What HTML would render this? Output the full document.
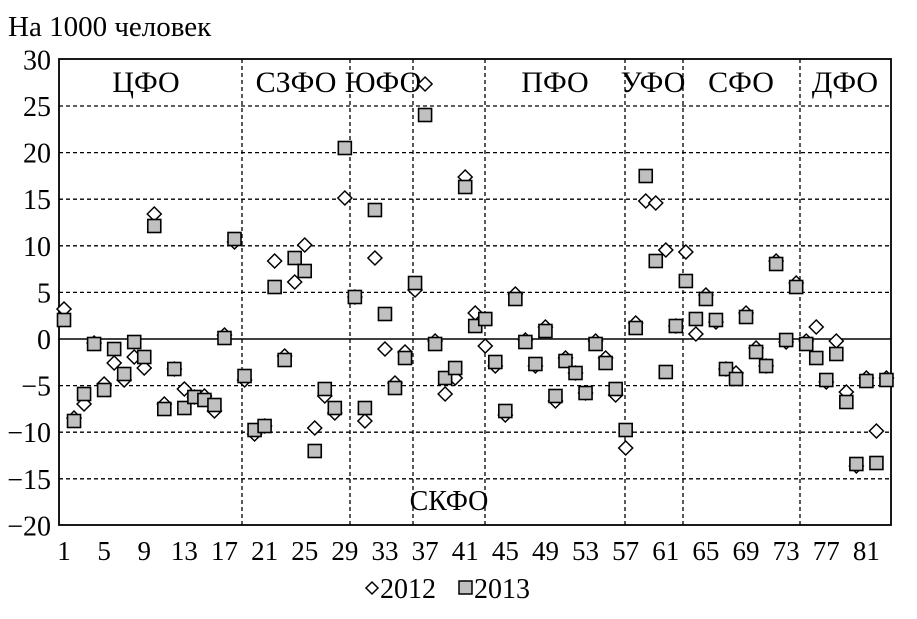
<!DOCTYPE html>
<html><head><meta charset="utf-8"><style>
body{margin:0;background:#fff}
svg text{font-family:"Liberation Serif",serif;fill:#000}
</style></head><body>
<svg id="s" width="917" height="614" xmlns="http://www.w3.org/2000/svg">
<rect x="0" y="0" width="917" height="614" fill="#fff"/>
<text x="8" y="36" font-size="29">На 1000 человек</text>
<g id="grid" stroke="#000" stroke-width="1.3" stroke-dasharray="4,3" fill="none"></g>
<line x1="59" y1="339" x2="891" y2="339" stroke="#000" stroke-width="1.6"/>
<rect x="59" y="59" width="832" height="466" fill="none" stroke="#000" stroke-width="1.8"/>
<g id="ylab" font-size="28" text-anchor="end"></g>
<g id="xlab" font-size="27" text-anchor="middle"></g>
<g font-size="30" text-anchor="middle">
<text x="146" y="92">ЦФО</text>
<text x="296" y="92">СЗФО</text>
<text x="383" y="92">ЮФО</text>
<text x="555" y="92">ПФО</text>
<text x="653" y="92">УФО</text>
<text x="741" y="92">СФО</text>
<text x="845" y="92">ДФО</text>
<text x="449" y="510" font-size="28">СКФО</text>
</g>
<g id="pts"></g>
<g font-size="28">
<path d="M366 588 l6 -6 l6 6 l-6 6 z" fill="#fff" stroke="#000" stroke-width="1.5"/>
<text x="380" y="598">2012</text>
<rect x="459" y="581" width="13" height="13" fill="#c0c0c0" stroke="#000" stroke-width="1.5"/>
<text x="474" y="598">2013</text>
</g>
</svg>
<script>
var NS="http://www.w3.org/2000/svg";
function el(p,t,a,txt){var e=document.createElementNS(NS,t);for(var k in a)e.setAttribute(k,a[k]);if(txt!==undefined)e.textContent=txt;p.appendChild(e);return e;}
var g=document.getElementById('grid');
[30,25,20,15,10,5,-5,-10,-15].forEach(function(v){var y=339-v*9.32;if(v!=30)el(g,'line',{x1:59,x2:891,y1:y,y2:y});});
[242,350,413,485,625,683,800].forEach(function(x){el(g,'line',{x1:x,x2:x,y1:59,y2:525});});
var yl=document.getElementById('ylab');
[30,25,20,15,10,5,0,-5,-10,-15,-20].forEach(function(v){var y=339-v*9.32;el(yl,'text',{x:51,y:y+10},(v<0?'\u2212':'')+Math.abs(v));});
var xl=document.getElementById('xlab');
for(var n=1;n<=81;n+=4){el(xl,'text',{x:64+(n-1)*10.03,y:560},n);}
var sq=[320,421,394,344,390,349,374,342,357,226,409,369,408,397,400,405,338,239,376,430,426,287,360,258,271,451,389,408,148,297,408,210,314,388,358,283,115,344,378,368,187,326,319,362,411,299,342,364,331,396,361,373,393,344,363,389,430,328,176,261,372,326,281,319,299,320,369,379,317,352,366,264,340,287,344,358,380,354,402,464,381,463,380];
var di=[309,418,404,343,384,363,380,357,368,214,404,369,389,397,396,411,335,242,380,434,426,261,356,282,245,428,396,413,198,297,421,258,349,383,352,290,84,341,394,378,177,313,346,366,415,294,340,366,327,401,358,373,393,341,358,395,448,323,201,203,250,326,252,334,295,322,369,373,313,348,366,261,342,283,341,327,382,341,392,466,378,431,378];
var p=document.getElementById('pts');
for(var i=0;i<83;i++){var x=64+i*10.03;var y=di[i];
el(p,'path',{d:'M'+(x-7)+' '+y+' l7 -7 l7 7 l-7 7 z',fill:'#fff',stroke:'#000','stroke-width':1.5});}
for(var i=0;i<83;i++){var x=64+i*10.03;var y=sq[i];
el(p,'rect',{x:x-6.5,y:y-6.5,width:13,height:13,fill:'#c0c0c0',stroke:'#000','stroke-width':1.6});}
</script>
</body></html>
